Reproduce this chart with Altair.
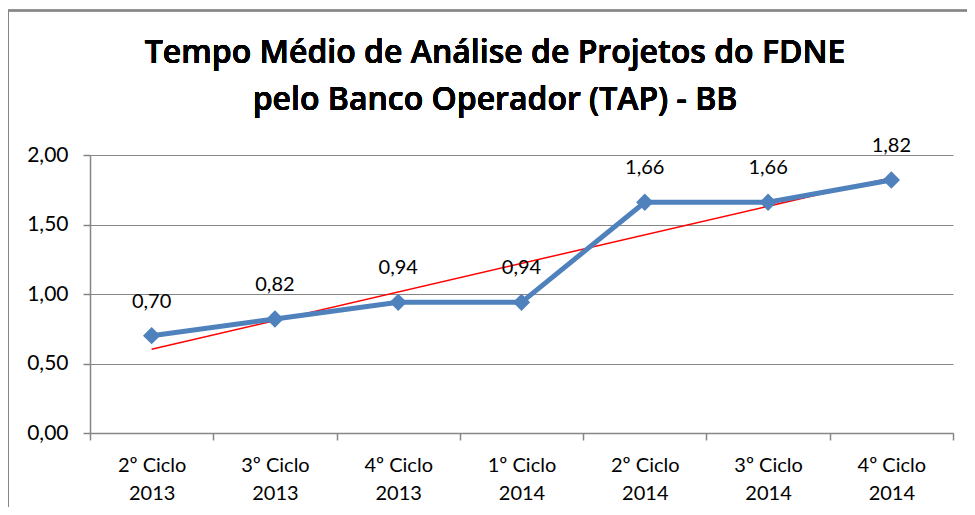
import altair as alt
import pandas as pd

# ---- data ----
categories = ["2º Ciclo 2013", "3º Ciclo 2013", "4º Ciclo 2013", "1º Ciclo 2014",
              "2º Ciclo 2014", "3º Ciclo 2014", "4º Ciclo 2014"]
values = [0.70, 0.82, 0.94, 0.94, 1.66, 1.66, 1.82]
y_ticks = [0, 0.5, 1.0, 1.5, 2.0]
title_lines = ["Tempo Médio de Análise de Projetos do FDNE",
               "pelo Banco Operador (TAP) - BB"]

df = pd.DataFrame({"cat": categories, "idx": list(range(len(categories))), "val": values})

FONT = "Lato"
TFONT = "Open Sans"
GRAY = "#868686"
BLUE = "#4F81BD"

W, H = 863, 278
PAD = {"left": 82, "top": 147, "right": 14, "bottom": 74}

x_enc = alt.X("cat:N", sort=categories, bandPosition=0.5,
              scale=alt.Scale(type="band", domain=categories, paddingInner=0, paddingOuter=0),
              axis=alt.Axis(title=None, tickBand="extent", labelAngle=0, labelAlign="center",
                            labelBaseline="top",
                            labelExpr="[substring(datum.label, 0, 8), substring(datum.label, 9)]",
                            labelFont=FONT, labelFontSize=20, labelColor="#000000",
                            labelLineHeight=28, labelPadding=15,
                            domainColor=GRAY, tickColor=GRAY, tickSize=7,
                            domainWidth=1.5, tickWidth=1.5, grid=False))
y_enc = alt.Y("val:Q",
              scale=alt.Scale(domain=[0, 2], nice=False, zero=True),
              axis=alt.Axis(title=None, values=y_ticks,
                            labelExpr="replace(format(datum.value, '.2f'), '.', ',')",
                            labelFont=FONT, labelFontSize=21, labelColor="#000000",
                            labelPadding=15, domainColor=GRAY, tickColor=GRAY, tickSize=7,
                            domainWidth=1.5, tickWidth=1.5,
                            grid=True, gridColor=GRAY, gridWidth=1.2))

base = alt.Chart(df)

line = base.mark_line(color=BLUE, strokeWidth=5).encode(x=x_enc, y=y_enc)
points = base.mark_point(shape="diamond", filled=True, size=300, color=BLUE, opacity=1).encode(
    x=alt.X("cat:N", sort=categories, bandPosition=0.5), y="val:Q")

cat_array = "[" + ", ".join("'" + c + "'" for c in categories) + "]"
trend = base.transform_regression("idx", "val", method="linear").transform_calculate(
    cat=cat_array + "[round(datum.idx)]"
).mark_line(color="#FF0000", strokeWidth=1.5).encode(
    x=alt.X("cat:N", sort=categories, bandPosition=0.5), y="val:Q")

labels = base.transform_calculate(
    lab="replace(format(datum.val, '.2f'), '.', ',')"
).mark_text(font=FONT, fontSize=20, color="#000000", dy=-28, baseline="alphabetic",
            align="center").encode(
    x=alt.X("cat:N", sort=categories, bandPosition=0.5), y="val:Q", text="lab:N")

title = base.mark_text(font=TFONT, fontSize=32, fontWeight=600, color="#000000",
                       align="center", baseline="alphabetic", lineHeight=47).encode(
    x=alt.value(405), y=alt.value(-92), text=alt.value(title_lines))

frame = base.mark_rect(fill=None, stroke=GRAY, strokeWidth=1.5, fillOpacity=0).encode(
    x=alt.value(-82), x2=alt.value(3000), y=alt.value(-144.5), y2=alt.value(3000))

chart = alt.layer(frame, trend, line, points, labels, title).properties(
    width=W, height=H,
    autosize=alt.AutoSizeParams(type="none"),
    padding=PAD,
    background="#FFFFFF",
).configure_view(stroke=None)

chart.save("out.html", embed_options={"renderer": "svg", "actions": False})
